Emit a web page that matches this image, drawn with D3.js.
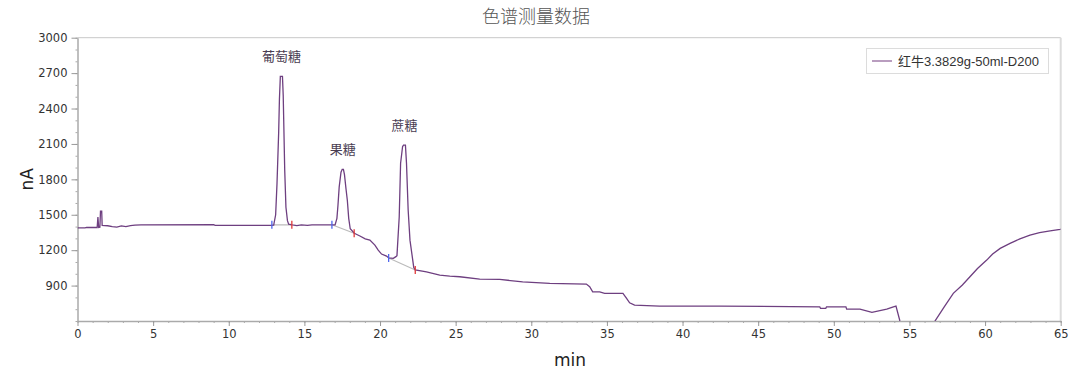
<!DOCTYPE html>
<html lang="zh">
<head>
<meta charset="utf-8">
<title>色谱测量数据</title>
<script src="https://d3js.org/d3.v7.min.js"></script>
<style>
  body { margin: 0; background: #fff; }
  svg text { font-family: "DejaVu Sans", "Noto Sans CJK SC", sans-serif; }
  .tick text { fill: #333; font-size: 11.5px; }
  .peak-label { font-family: "Noto Sans CJK SC", sans-serif; font-size: 13px; fill: #4a3d52; }
</style>
</head>
<body>
<div id="chart"></div>
<script>
// chromatogram trace: time (min) and signal (nA)
var times  = [0, 0.5, 0.6, 1.3, 1.35, 1.40, 1.48, 1.52, 1.60, 1.63, 2.0, 2.3, 2.6, 2.9, 3.2, 3.5, 3.8, 4.2, 9.0, 9.1, 12.8,
              12.97, 13.10, 13.19, 13.30, 13.35, 13.41, 13.55, 13.60, 13.70, 13.78, 13.88, 13.96,
              14.2, 14.5, 14.8, 15.2, 15.5, 16.9, 17.03, 17.15, 17.22, 17.30, 17.42, 17.50, 17.58, 17.65, 17.75, 17.84, 17.93, 18.03, 18.3,
              18.67, 19.02, 19.33, 19.66, 19.88, 20.10, 20.43, 20.57, 20.88, 21.05, 21.12,
              21.27, 21.36, 21.49, 21.55, 21.68, 21.75, 21.86, 21.98, 22.23, 22.33,
              23.07, 23.95, 24.61, 25.27, 26.59, 27.91, 29.43, 31.22, 33.64, 33.86, 34.06, 34.52, 34.85, 36.06, 36.30, 36.50, 36.83, 38.48, 42.45,
              49.07, 49.12, 49.47, 49.52, 50.80, 50.85, 51.73, 52.52, 53.50, 53.94, 54.11, 54.37, 54.8, 55.5, 56.2, 56.69,
              57.30, 57.90, 58.50, 59.00, 59.50, 60.11, 60.50, 61.00, 61.65, 62.30, 62.97, 63.60, 64.30, 64.96, 65];
var signal = [1389, 1389, 1393, 1392, 1480, 1392, 1395, 1530, 1530, 1410, 1407, 1400, 1396, 1405, 1399, 1408, 1412, 1415, 1416, 1410, 1410,
              1412, 1500, 1766, 2200, 2480, 2672, 2672, 2510, 1876, 1564, 1450, 1420,
              1414, 1408, 1415, 1410, 1414, 1414, 1414, 1470, 1580, 1734, 1860, 1885, 1885, 1840, 1720, 1621, 1470, 1381, 1343,
              1320, 1296, 1286, 1243, 1201, 1167, 1150, 1134, 1131, 1145, 1154,
              1483, 1936, 2076, 2090, 2090, 1936, 1540, 1285, 1054, 1032,
              1017, 989, 980, 975, 955, 952, 932, 919, 913, 890, 847, 847, 834, 834, 792, 754, 735, 726, 726,
              720, 707, 707, 720, 720, 700, 700, 673, 700, 720, 726, 600, 470, 400, 450, 600,
              720, 834, 905, 975, 1045, 1116, 1168, 1215, 1258, 1296, 1328, 1349, 1364, 1376, 1378];

// integrated peaks
var peakNames  = ["葡萄糖", "果糖", "蔗糖"];
var peakTimes  = [13.48, 17.54, 21.62];
var peakApex   = [2672, 1885, 2090];
var startTimes = [12.85, 16.82, 20.57];
var startVals  = [1415, 1415, 1134];
var endTimes   = [14.17, 18.29, 22.33];
var endVals    = [1415, 1343, 1032];

var seriesName = "红牛3.3829g-50ml-D200";
var yTicks = [900, 1200, 1500, 1800, 2100, 2400, 2700, 3000];
var xTicks = [0, 5, 10, 15, 20, 25, 30, 35, 40, 45, 50, 55, 60, 65];

var W = 1080, H = 383;
var m = {top: 37.7, right: 19.3, bottom: 62, left: 77.5};

var svg = d3.select("#chart").append("svg")
    .attr("width", W).attr("height", H);

var x = d3.scaleLinear().domain([0, 65]).range([m.left, W - m.right]);
var y = d3.scaleLinear().domain([600, 3000]).range([H - m.bottom, m.top]);

// title
svg.append("text")
   .attr("x", 536).attr("y", 23)
   .attr("text-anchor", "middle")
   .style("font-family", "'Noto Sans CJK SC', sans-serif")
   .style("font-size", "18px").style("font-weight", 300)
   .style("fill", "#555")
   .text("色谱测量数据");

// frame (top and right)
svg.append("line").attr("x1", m.left).attr("x2", W - m.right)
   .attr("y1", m.top).attr("y2", m.top).style("stroke", "#c8c8c8");
svg.append("line").attr("x1", W - m.right).attr("x2", W - m.right)
   .attr("y1", m.top).attr("y2", H - m.bottom).style("stroke", "#dcdcdc").style("stroke-width", 2);

// minor ticks
svg.append("g").attr("transform", "translate(0," + (H - m.bottom) + ")")
   .call(d3.axisBottom(x).tickValues(d3.range(0, 66, 1)).tickSize(2).tickFormat(""))
   .call(g => g.select(".domain").remove())
   .selectAll("line").style("stroke", "#aaa");
svg.append("g").attr("transform", "translate(" + m.left + ",0)")
   .call(d3.axisLeft(y).tickValues(d3.range(600, 3001, 100)).tickSize(2).tickFormat(""))
   .call(g => g.select(".domain").remove())
   .selectAll("line").style("stroke", "#aaa");

// major axes
var xAxis = svg.append("g").attr("transform", "translate(0," + (H - m.bottom) + ")")
   .call(d3.axisBottom(x).tickValues(xTicks).tickFormat(d3.format("d"))
           .tickSize(5).tickSizeOuter(0).tickPadding(4));
var yAxis = svg.append("g").attr("transform", "translate(" + m.left + ",0)")
   .call(d3.axisLeft(y).tickValues(yTicks).tickFormat(d3.format("d"))
           .tickSize(6).tickSizeOuter(0).tickPadding(4));
[xAxis, yAxis].forEach(function(a) {
  a.select(".domain").style("stroke", "#aaa").style("stroke-width", 1.5);
  a.selectAll(".tick line").style("stroke", "#999");
});

// axis titles
svg.append("text")
   .attr("transform", "translate(33," + ((m.top + H - m.bottom) / 2) + ") rotate(-90)")
   .attr("text-anchor", "middle")
   .style("font-size", "17px").style("fill", "#222")
   .text("nA");
svg.append("text")
   .attr("x", 570).attr("y", 366)
   .attr("text-anchor", "middle")
   .style("font-size", "17px").style("fill", "#222")
   .text("min");

// clip to plot area
svg.append("clipPath").attr("id", "plot")
   .append("rect").attr("x", m.left).attr("y", m.top)
   .attr("width", W - m.left - m.right).attr("height", H - m.top - m.bottom);

var plot = svg.append("g").attr("clip-path", "url(#plot)");

// integration baselines
plot.selectAll(".base").data(peakNames).join("line")
    .attr("x1", (d, i) => x(startTimes[i])).attr("y1", (d, i) => y(startVals[i]))
    .attr("x2", (d, i) => x(endTimes[i])).attr("y2", (d, i) => y(endVals[i]))
    .style("stroke", "#bbb").style("stroke-width", 1.2);

// trace
var pts = times.map((t, i) => [t, signal[i]]);
plot.append("path").datum(pts)
    .attr("d", d3.line().x(d => x(d[0])).y(d => y(d[1])))
    .style("fill", "none").style("stroke", "#6e3f80").style("stroke-width", 1.3);

// start / end markers
plot.selectAll(".m-start").data(peakNames).join("line")
    .attr("x1", (d, i) => x(startTimes[i])).attr("x2", (d, i) => x(startTimes[i]))
    .attr("y1", (d, i) => y(startVals[i]) - 4).attr("y2", (d, i) => y(startVals[i]) + 4)
    .style("stroke", "#4f66ee").style("stroke-width", 1.3);
plot.selectAll(".m-end").data(peakNames).join("line")
    .attr("x1", (d, i) => x(endTimes[i])).attr("x2", (d, i) => x(endTimes[i]))
    .attr("y1", (d, i) => y(endVals[i]) - 4).attr("y2", (d, i) => y(endVals[i]) + 4)
    .style("stroke", "#e23a3a").style("stroke-width", 1.3);

// peak labels
svg.selectAll(".peak-label").data(peakNames).join("text")
   .attr("class", "peak-label")
   .attr("x", (d, i) => x(peakTimes[i]))
   .attr("y", (d, i) => y(peakApex[i]) - 15)
   .attr("text-anchor", "middle")
   .text(d => d);

// legend
var lg = svg.append("g");
lg.append("rect").attr("x", 866.5).attr("y", 48.5).attr("width", 182).attr("height", 25)
  .style("fill", "#fff").style("stroke", "#dcdcdc");
lg.append("line").attr("x1", 872).attr("x2", 892).attr("y1", 61).attr("y2", 61)
  .style("stroke", "#a27caa").style("stroke-width", 1.5);
lg.append("text").attr("x", 898).attr("y", 65.5)
  .style("font-family", "'Liberation Sans', 'Noto Sans CJK SC', sans-serif")
  .style("font-size", "13px").style("fill", "#333")
  .text(seriesName);
</script>
</body>
</html>
